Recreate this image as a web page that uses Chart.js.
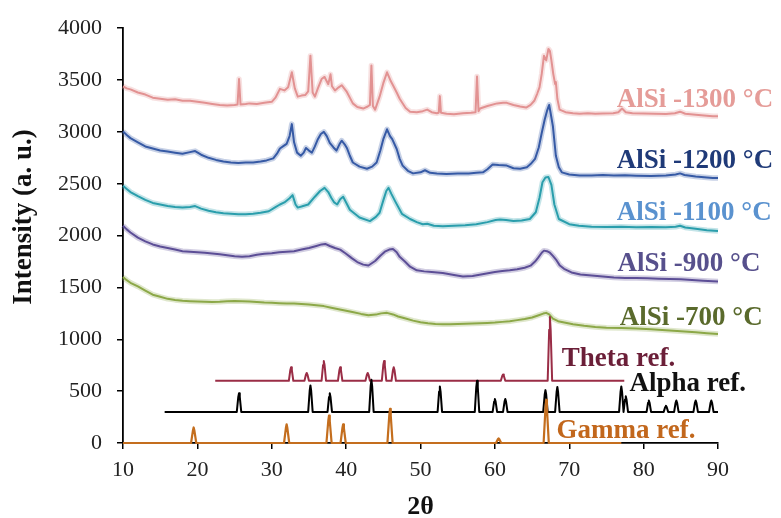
<!DOCTYPE html>
<html><head><meta charset="utf-8">
<script src="https://cdn.jsdelivr.net/npm/chart.js@4.4.1/dist/chart.umd.min.js"></script>
<style>html,body{margin:0;padding:0;background:#fff}#wrap{width:781px;height:518px}</style>
</head><body><div id="wrap"><canvas id="c" width="781" height="518"></canvas></div>
<script>
// ---- measured patterns: [2theta, intensity] ----
const s1300 = [[10,3440],[10.5,3420],[11,3410],[12,3380],[13,3360],[14,3330],[15,3320],[16,3310],[17,3315],[18,3300],[19,3300],[20,3290],[21,3280],[22,3270],[23,3260],[24,3255],[25,3260],[25.4,3265],[25.6,3510],[25.8,3265],[26.5,3270],[27,3275],[28,3270],[29,3280],[30,3290],[30.5,3330],[31.1,3415],[31.7,3400],[32.2,3430],[32.7,3575],[33.1,3420],[33.5,3340],[34.0,3350],[34.5,3355],[34.9,3390],[35.2,3735],[35.5,3380],[35.8,3340],[36.2,3420],[36.7,3510],[37.1,3530],[37.6,3460],[37.9,3555],[38.1,3440],[38.5,3400],[39.0,3430],[39.4,3450],[40.1,3385],[40.9,3275],[41.5,3240],[42.3,3225],[42.9,3245],[43.2,3260],[43.4,3640],[43.6,3250],[43.9,3215],[44.5,3340],[45.0,3470],[45.5,3575],[46.0,3490],[46.3,3450],[46.8,3380],[47.2,3320],[48.0,3230],[48.6,3195],[49.5,3190],[50.3,3200],[50.9,3215],[51.5,3190],[52.2,3180],[52.45,3185],[52.6,3345],[52.75,3185],[53.5,3175],[54.5,3170],[55.7,3180],[56.8,3185],[57.4,3190],[57.6,3535],[57.8,3200],[58.0,3225],[59,3250],[60.3,3275],[61.1,3280],[61.6,3280],[62.5,3260],[63.4,3245],[64.2,3235],[64.8,3260],[65.3,3300],[65.7,3370],[66.0,3430],[66.3,3560],[66.6,3735],[66.9,3690],[67.2,3800],[67.4,3780],[67.6,3690],[67.85,3560],[68.1,3460],[68.2,3480],[68.4,3320],[68.7,3215],[69.5,3190],[70.5,3180],[71.4,3175],[72.5,3180],[73.5,3175],[74.5,3178],[75.9,3180],[76.6,3190],[77.1,3225],[77.6,3190],[78.5,3180],[80,3178],[81.5,3175],[83,3172],[84.2,3180],[84.9,3195],[85.6,3175],[87,3165],[88.5,3155],[89.3,3150],[90,3150]];
const s1200 = [[10,3005],[10.5,2970],[11,2940],[12,2900],[13,2860],[14,2840],[15,2820],[16,2810],[17,2800],[18,2790],[19,2805],[19.7,2815],[20.5,2780],[21.5,2750],[22.5,2730],[23.5,2715],[24.5,2705],[25.5,2700],[26.5,2705],[27.5,2705],[28.5,2715],[29.3,2725],[30.2,2745],[30.7,2790],[31.1,2840],[31.6,2865],[32.0,2885],[32.4,2960],[32.7,3075],[33.0,2900],[33.4,2800],[33.9,2770],[34.3,2800],[34.6,2845],[35.0,2820],[35.4,2800],[35.8,2860],[36.2,2930],[36.6,2980],[37.0,3000],[37.4,2960],[37.8,2895],[38.3,2850],[38.7,2820],[39.1,2880],[39.4,2915],[39.8,2880],[40.1,2845],[40.5,2770],[40.9,2705],[41.8,2665],[42.8,2645],[43.5,2665],[44.1,2705],[44.6,2820],[45.0,2930],[45.5,3025],[45.9,2960],[46.2,2930],[46.8,2835],[47.2,2740],[47.6,2675],[48.3,2625],[49.0,2600],[50.0,2610],[50.6,2630],[51.3,2605],[52.2,2600],[53.5,2595],[55.0,2600],[56.5,2600],[57.5,2605],[58.4,2610],[59.0,2640],[59.7,2685],[60.5,2680],[61.6,2675],[62.5,2650],[63.4,2645],[64.3,2660],[64.8,2690],[65.4,2740],[65.9,2850],[66.3,2990],[66.7,3120],[67.0,3200],[67.3,3260],[67.5,3180],[67.8,3055],[68.2,2770],[68.6,2660],[69.0,2610],[70,2590],[71.4,2580],[73,2580],[74.5,2585],[76,2580],[77.5,2582],[79,2578],[81,2575],[83,2580],[84.3,2590],[84.9,2600],[85.5,2585],[87,2570],[88.5,2560],[89.3,2555],[90,2555]];
const s1100 = [[10,2480],[10.5,2450],[11,2420],[12,2380],[13,2345],[14,2315],[15,2300],[16,2285],[17,2275],[18,2270],[19,2275],[19.7,2285],[20.5,2260],[21.5,2240],[22.5,2225],[23.5,2215],[24.5,2210],[25.5,2205],[26.5,2205],[27.5,2210],[28.5,2220],[29.6,2235],[30.5,2275],[31.1,2300],[31.7,2320],[32.4,2360],[32.8,2390],[33.2,2300],[33.5,2270],[34.0,2280],[34.9,2300],[35.8,2375],[36.5,2430],[37.1,2460],[37.6,2420],[38.0,2365],[38.4,2320],[38.8,2300],[39.2,2350],[39.6,2375],[40.0,2320],[40.5,2250],[41.8,2175],[43.2,2140],[44.0,2180],[44.5,2220],[45.0,2340],[45.4,2430],[45.7,2460],[46.1,2400],[46.6,2330],[47.5,2210],[48.6,2160],[49.5,2130],[50.3,2110],[50.9,2115],[51.8,2095],[53,2090],[54.5,2095],[56,2100],[57.5,2110],[59,2130],[60.1,2150],[60.7,2155],[61.5,2150],[62.5,2140],[63.6,2145],[64.7,2160],[65.5,2225],[66.0,2365],[66.4,2515],[66.8,2560],[67.2,2565],[67.6,2490],[68.0,2300],[68.6,2160],[70,2110],[71.3,2095],[73,2085],[75,2082],[77,2085],[79,2080],[81,2082],[83,2080],[84.3,2085],[84.9,2095],[85.6,2078],[87,2065],[88.5,2052],[90,2045]];
const s900 = [[10,2095],[10.5,2060],[11,2030],[12,1980],[13,1945],[14,1915],[15,1895],[16,1880],[17,1865],[18,1850],[19,1845],[20,1840],[21,1835],[22,1828],[23,1820],[24,1810],[25,1800],[26,1795],[27,1800],[28,1815],[29,1825],[30,1830],[31,1840],[32,1845],[33,1850],[34,1865],[35,1880],[36,1900],[36.7,1915],[37.2,1920],[37.8,1900],[38.5,1880],[39.2,1865],[39.9,1830],[40.8,1780],[41.5,1745],[42.3,1720],[43.0,1712],[43.9,1755],[44.6,1805],[45.2,1845],[45.8,1865],[46.3,1870],[46.8,1840],[47.2,1795],[47.9,1750],[48.6,1700],[49.5,1665],[50.5,1655],[51.5,1650],[53,1640],[54.5,1620],[55.7,1605],[57,1610],[58.5,1630],[60,1650],[61,1658],[62,1665],[63,1675],[64.0,1690],[64.8,1710],[65.4,1750],[65.8,1785],[66.3,1835],[66.6,1855],[67.0,1850],[67.4,1835],[67.8,1805],[68.3,1760],[68.7,1715],[69.3,1680],[70.3,1645],[71.5,1625],[73,1615],[74.5,1605],[76,1595],[77.5,1592],[79,1590],[80.5,1588],[82,1585],[83.5,1582],[85,1578],[86.5,1572],[88,1565],[89.3,1560],[90,1558]];
const s700 = [[10,1600],[10.5,1570],[11,1545],[12,1510],[13,1470],[14,1430],[15,1410],[16,1390],[17,1380],[18,1372],[19,1368],[20,1365],[21,1362],[22,1360],[23,1362],[24,1368],[25,1370],[26,1368],[27,1365],[28,1360],[29,1355],[30,1352],[31,1348],[32,1345],[33,1345],[34,1340],[35,1335],[36,1328],[37,1320],[38,1305],[39,1290],[40,1275],[41,1260],[42,1245],[43,1232],[44,1238],[44.7,1250],[45.5,1255],[46.3,1240],[47,1220],[48,1200],[49,1180],[50,1165],[51,1155],[52,1148],[53,1145],[54,1145],[55,1148],[56,1150],[57,1152],[58,1155],[59,1158],[60,1162],[61,1168],[62,1175],[63,1185],[64,1195],[65,1210],[65.8,1230],[66.5,1248],[66.9,1255],[67.3,1240],[67.8,1200],[68.5,1175],[69.5,1160],[70.5,1145],[72,1130],[73.5,1118],[75,1112],[77,1110],[79,1105],[81,1098],[83,1088],[85,1078],[87,1068],[88.5,1058],[90,1050]];

// ---- reference stick patterns ----
const thetaRange = [22.4, 77.4], thetaBase = 600;
const thetaPos = [32.6, 34.7, 37.0, 39.2, 42.9, 45.1, 46.4, 61.1, 67.4];
const thetaH   = [130, 75, 190, 130, 75, 190, 130, 60, 615];
const alphaRange = [15.6, 90], alphaBase = 300;
const alphaPos = [25.6, 35.2, 37.8, 43.4, 52.6, 57.6, 60.0, 61.4, 66.8, 68.4, 77.0, 77.6, 80.7, 83.0, 84.4, 87.0, 89.1];
const alphaH   = [180, 255, 180, 310, 245, 300, 125, 125, 210, 240, 245, 150, 110, 60, 110, 110, 110];
const gammaRange = [10, 77], gammaBase = 0;
const gammaPos = [19.5, 32.0, 37.7, 39.6, 45.9, 60.5, 66.9];
const gammaH   = [150, 180, 265, 180, 330, 45, 415];

const labelTexts = ['AlSi -1300 °C','AlSi -1200 °C','AlSi -1100 °C','AlSi -900 °C','AlSi -700 °C','Theta ref.','Alpha ref.','Gamma ref.'];
const yTitle = 'Intensity (a. u.)';
const xTitle = '2θ';
const yTicks = [0,500,1000,1500,2000,2500,3000,3500,4000];
const xTicks = [10,20,30,40,50,60,70,80,90];

// styling / placement (not data)
const labelAt = [[76.4,3243],[76.4,2648],[76.4,2147],[76.5,1655],[76.8,1135],[69.0,738],[78.1,501],[68.3,47]];
const labelColors = ['#e59c98','#1f3a78','#5a92cf','#57508c','#5a6a2c','#6b1f38','#111111','#c2671c'];

function pts(a){ return a.map(p => ({x:p[0], y:p[1]})); }
function sticks(range, base, pos, h, w){
  const out = [{x:range[0], y:base}];
  pos.forEach((p,i) => {
    out.push({x:p-w, y:base}, {x:p-0.1, y:base+h[i]*0.8}, {x:p, y:base+h[i]}, {x:p+0.1, y:base+h[i]*0.8}, {x:p+w, y:base});
  });
  out.push({x:range[1], y:base});
  return out;
}
function ds(data, color, w){ return {data, borderColor:color, borderWidth:w, pointRadius:0, tension:0, fill:false, clip:false, borderJoinStyle:'round'}; }
function measured(a, rgb){ return [ds(pts(a), 'rgba('+rgb+',0.28)', 5.5), ds(pts(a), 'rgb('+rgb+')', 2)]; }

const labelPlugin = {
  id:'labels',
  afterDatasetsDraw(chart){
    const {ctx, scales:{x, y}} = chart;
    ctx.save();
    ctx.font = 'bold 27px "Liberation Serif", "Times New Roman", serif';
    ctx.textBaseline = 'alphabetic';
    ctx.textAlign = 'left';
    labelTexts.forEach((t,i) => {
      ctx.fillStyle = labelColors[i];
      ctx.fillText(t, x.getPixelForValue(labelAt[i][0]), y.getPixelForValue(labelAt[i][1]));
    });
    // rotated y-axis title, placed a little above the axis centre as in the reference
    ctx.fillStyle = '#111';
    ctx.font = 'bold 27px "Liberation Serif", "Times New Roman", serif';
    ctx.textAlign = 'center';
    ctx.textBaseline = 'middle';
    ctx.translate(24, y.getPixelForValue(2180));
    ctx.rotate(-Math.PI/2);
    ctx.fillText(yTitle, 0, 0);
    ctx.restore();
  }
};

new Chart(document.getElementById('c'), {
  type:'line',
  data:{ datasets:[
    ds(sticks(gammaRange, gammaBase, gammaPos, gammaH, 0.35), '#c46e1e', 2.2),
    ds(sticks(alphaRange, alphaBase, alphaPos, alphaH, 0.3), '#000000', 2),
    ds(sticks(thetaRange, thetaBase, thetaPos, thetaH, 0.3), '#9a2d46', 2),
    ...measured(s700, '140,168,72'),
    ...measured(s900, '92,78,150'),
    ...measured(s1100, '42,158,172'),
    ...measured(s1200, '55,90,165'),
    ...measured(s1300, '226,146,146')
  ]},
  options:{
    responsive:false, animation:false, events:[],
    layout:{ padding:{ top:20, right:63, left:0, bottom:0 } },
    plugins:{ legend:{display:false}, tooltip:{enabled:false} },
    scales:{
      x:{ type:'linear', min:10, max:90,
        afterBuildTicks(s){ s.ticks = xTicks.map(v => ({value:v})); },
        afterFit(s){ s.height = 75; },
        ticks:{ padding:8, color:'#222', font:{ family:'"Liberation Serif", serif', size:22 }, callback:v => String(v) },
        grid:{ drawOnChartArea:false, drawTicks:true, tickLength:6, color:'#000', lineWidth:1.5 },
        border:{ display:true, color:'#000', width:1.8 },
        title:{ display:true, text:xTitle, color:'#111', font:{ family:'"Liberation Serif", serif', size:26, weight:'bold', lineHeight:0.8 }, padding:{top:0,bottom:0} }
      },
      y:{ min:0, max:4000,
        afterBuildTicks(s){ s.ticks = yTicks.map(v => ({value:v})); },
        afterFit(s){ s.width = 123; },
        ticks:{ padding:15, color:'#222', font:{ family:'"Liberation Serif", serif', size:22 }, callback:v => String(v) },
        grid:{ drawOnChartArea:false, drawTicks:true, tickLength:6, color:'#000', lineWidth:1.5 },
        border:{ display:true, color:'#000', width:1.8 },
        title:{ display:false }
      }
    }
  },
  plugins:[labelPlugin]
});
</script></body></html>
